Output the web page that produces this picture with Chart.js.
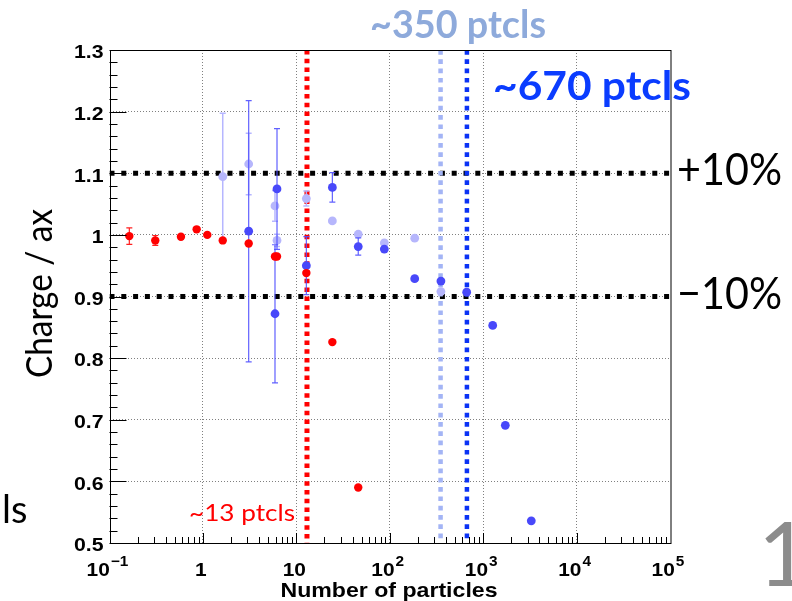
<!DOCTYPE html>
<html><head><meta charset="utf-8">
<script src="https://cdn.jsdelivr.net/npm/chart.js@4.4.0/dist/chart.umd.min.js"></script>
<style>html,body{margin:0;padding:0;background:#fff;overflow:hidden}</style>
</head><body>
<canvas id="c" width="792" height="601"></canvas>
<script>
// ---------- data ----------
const redX   = [0.163, 0.309, 0.582, 0.857, 1.114, 1.63, 3.09, 5.91, 6.21, 12.8, 24.3, 46.0];
const redY   = [0.998, 0.991, 0.997, 1.009, 1.000, 0.991, 0.986, 0.965, 0.965, 0.938, 0.826, 0.590];
const redErr = [0.0135, 0.008, 0, 0, 0, 0, 0, 0, 0, 0, 0, 0];

const darkX   = [3.09, 5.91, 6.21, 12.8, 24.3, 46.0, 87.5, 185, 353, 666, 1265, 1726, 3274];
const darkY   = [1.006, 0.872, 1.0745, 0.950, 1.077, 0.981, 0.977, 0.929, 0.925, 0.907, 0.853, 0.691, 0.536];
const darkErr = [0.212, 0.112, 0.098, 0.047, 0.024, 0.014, 0, 0, 0, 0, 0, 0, 0];

const lightX   = [1.63, 3.09, 5.91, 6.21, 12.8, 24.3, 46.0, 87.5, 185, 353];
const lightY   = [1.0945, 1.115, 1.047, 0.991, 1.059, 1.0226, 1.001, 0.987, 0.9946, 0.908];
const lightErr = [0.103, 0.05, 0.025, 0.01, 0.012, 0, 0, 0, 0, 0];

const limitLevels = [1.1, 0.9];          // +10% / -10%
const markerCounts = [13, 350, 670];     // ~13, ~350, ~670 ptcls

const xMin = 0.1, xMax = 1e5, yMin = 0.5, yMax = 1.3;
const xTickValues = [0.1, 1, 10, 100, 1000, 1e4, 1e5];
const xTickLabels = ['10^−1', '1', '10', '10^2', '10^3', '10^4', '10^5'];
const yTickValues = [0.5, 0.6, 0.7, 0.8, 0.9, 1.0, 1.1, 1.2, 1.3];
const yTickLabels = ['0.5', '0.6', '0.7', '0.8', '0.9', '1', '1.1', '1.2', '1.3'];

// ---------- helpers ----------
const pts = (xs, ys) => xs.map((x, i) => ({x: x, y: ys[i]}));
function drawText(ctx, s, x, y, font, color, align, sx, targetW) {
  ctx.save();
  ctx.font = font; ctx.fillStyle = color; ctx.textAlign = 'left'; ctx.textBaseline = 'alphabetic';
  const m = ctx.measureText(s).width;
  if (targetW) sx = targetW / m;
  const w = m * sx;
  const x0 = align === 'right' ? x - w : (align === 'center' ? x - w / 2 : x);
  ctx.translate(x0, y); ctx.scale(sx, 1); ctx.fillText(s, 0, 0);
  ctx.restore();
  return w;
}
const TICKFONT = 'bold 18.5px "Liberation Sans", Arial, sans-serif';
const XTICKFONT = 'bold 19px "Liberation Sans", Arial, sans-serif';
const EXPFONT = 'bold 14px "Liberation Sans", Arial, sans-serif';
const SLIDE = 'Lato, "Open Sans", sans-serif';

const decor = {
  id: 'decor',
  beforeDatasetDraw(chart, args) {
    const ds = chart.data.datasets[args.index];
    if (!ds.errors) return;
    const xs = chart.scales.x, ys = chart.scales.y, ctx = chart.ctx;
    ctx.save();
    ctx.strokeStyle = ds.errColor; ctx.lineWidth = ds.errWidth;
    ds.data.forEach((p, i) => {
      const e = ds.errors[i]; if (!e) return;
      const x = xs.getPixelForValue(p.x);
      const y1 = ys.getPixelForValue(p.y + e), y2 = ys.getPixelForValue(p.y - e);
      ctx.beginPath();
      ctx.moveTo(x, y1); ctx.lineTo(x, y2);
      ctx.moveTo(x - 3, y1); ctx.lineTo(x + 3, y1);
      ctx.moveTo(x - 3, y2); ctx.lineTo(x + 3, y2);
      ctx.stroke();
    });
    ctx.restore();
  },
  afterDatasetsDraw(chart) {
    const ctx = chart.ctx, a = chart.chartArea, xs = chart.scales.x, ys = chart.scales.y;
    ctx.save();
    ctx.strokeStyle = '#000'; ctx.lineWidth = 1;
    ctx.strokeRect(Math.round(a.left) + 0.5, Math.round(a.top) + 0.5, Math.round(a.right - a.left) - 0.5, Math.round(a.bottom - a.top));
    ctx.beginPath();
    for (let k = 0; k <= 40; k++) {
      const v = yMin + k * 0.02;
      const y = Math.round(ys.getPixelForValue(v)) + 0.5;
      const L = (k % 5 === 0) ? 17 : 8;
      ctx.moveTo(a.left, y); ctx.lineTo(a.left + L, y);
    }
    for (let d = -1; d <= 4; d++) {
      for (let m = 1; m <= 9; m++) {
        const v = m * Math.pow(10, d);
        const x = Math.round(xs.getPixelForValue(v)) + 0.5;
        const L = (m === 1) ? 10 : 6;
        ctx.moveTo(x, a.bottom); ctx.lineTo(x, a.bottom - L);
      }
    }
    ctx.stroke();
    ctx.restore();

    // y tick labels
    yTickValues.forEach((v, i) => {
      const y = ys.getPixelForValue(v);
      drawText(ctx, yTickLabels[i], 103.5, y + 8.3, TICKFONT, '#000', 'right', 1.15);
    });
    // x tick labels (with superscripts)
    xTickValues.forEach((v, i) => {
      const x = xs.getPixelForValue(v) - 2;
      const parts = xTickLabels[i].split('^');
      ctx.save(); ctx.font = XTICKFONT;
      const wb = ctx.measureText(parts[0]).width * 1.1;
      ctx.font = EXPFONT;
      const we = parts[1] ? ctx.measureText(parts[1]).width * 1.1 + 1 : 0;
      ctx.restore();
      const x0 = x - (wb + we) / 2;
      drawText(ctx, parts[0], x0, 575.5, XTICKFONT, '#000', 'left', 1.1);
      if (parts[1]) drawText(ctx, parts[1], x0 + wb + 1, 566, EXPFONT, '#000', 'left', 1.1);
    });
    drawText(ctx, 'Number of particles', 389, 597, 'bold 21px "Liberation Sans", Arial, sans-serif', '#000', 'center', 1, 217);
  },
  afterDraw(chart) {
    const ctx = chart.ctx;
    // y title (rotated)
    ctx.save();
    ctx.translate(51.5, 293.5); ctx.rotate(-Math.PI / 2);
    drawText(ctx, 'Charge / ax', 0, 0, '36px ' + SLIDE, '#000', 'center', 1, 169);
    ctx.restore();
    drawText(ctx, '~350 ptcls', 370, 37.5, 'bold 39px ' + SLIDE, '#8eaadb', 'left', 1, 176);
    drawText(ctx, '~670 ptcls', 493, 100, 'bold 41px ' + SLIDE, '#0a3cff', 'left', 1, 198);
    drawText(ctx, '+10%', 677, 185, '44px ' + SLIDE, '#000', 'left', 1, 105);
    drawText(ctx, '\u221210%', 677, 308.5, '44px ' + SLIDE, '#000', 'left', 1, 105);
    drawText(ctx, '~13 ptcls', 189, 521, '24px ' + SLIDE, '#ff0000', 'left', 1, 106);
    drawText(ctx, 'ls', 2, 523, '38px ' + SLIDE, '#000', 'left', 1);
    drawText(ctx, '1', 758, 586, '90px ' + SLIDE, '#8c8c8c', 'left', 1);
  }
};

const lineDs = [];
limitLevels.forEach(v => lineDs.push({
  type: 'line', data: [{x: xMin, y: v}, {x: xMax, y: v}],
  borderColor: '#000', borderWidth: 5, borderDash: [5, 6.8], borderCapStyle: 'butt',
  pointRadius: 0, fill: false, order: 10
}));
const vColors = ['#ff0000', '#a3b4f5', '#0a32f5'];
const vDash = [[4.5, 4.3], [4.7, 4.6], [4.7, 4.6]];
markerCounts.forEach((n, i) => lineDs.push({
  type: 'line', data: [{x: n, y: yMax}, {x: n, y: yMin}],
  borderColor: vColors[i], borderWidth: i === 0 ? 5 : 4.5, borderDash: vDash[i], borderCapStyle: 'butt',
  pointRadius: 0, fill: false, order: 9
}));

new Chart(document.getElementById('c'), {
  type: 'scatter',
  data: {
    datasets: lineDs.concat([
      {data: pts(lightX, lightY), errors: lightErr, errColor: 'rgba(178,178,255,0.95)', errWidth: 1.5,
       pointRadius: 4.4, pointBackgroundColor: 'rgb(182,182,252)', pointBorderWidth: 0, order: 3},
      {data: pts(darkX, darkY), errors: darkErr, errColor: 'rgba(80,80,255,0.9)', errWidth: 1.2,
       pointRadius: 4.4, pointBackgroundColor: 'rgb(72,72,250)', pointBorderWidth: 0, order: 2},
      {data: pts(redX, redY), errors: redErr, errColor: '#ff2020', errWidth: 1.2,
       pointRadius: 4.2, pointBackgroundColor: '#ff0000', pointBorderWidth: 0, order: 1}
    ])
  },
  options: {
    responsive: false, animation: false, devicePixelRatio: 1,
    layout: {padding: {left: 0, right: 122, top: 50, bottom: 0}},
    plugins: {legend: {display: false}, tooltip: {enabled: false}},
    events: [],
    scales: {
      x: {
        type: 'logarithmic', min: xMin, max: xMax,
        afterBuildTicks: s => { s.ticks = xTickValues.map(v => ({value: v})); },
        afterFit: s => { s.height = 58; },
        ticks: {display: false},
        grid: {drawTicks: false, lineWidth: 1,
               color: c => (c.tick && c.tick.value > xMin * 1.01 && c.tick.value < xMax * 0.99) ? '#808080' : 'rgba(0,0,0,0)'},
        border: {display: false, dash: [1, 2]}
      },
      y: {
        type: 'linear', min: yMin, max: yMax,
        afterBuildTicks: s => { s.ticks = yTickValues.map(v => ({value: v})); },
        afterFit: s => { s.width = 109.5; },
        ticks: {display: false},
        grid: {drawTicks: false, lineWidth: 1,
               color: c => (c.tick && c.tick.value > yMin + 0.01 && c.tick.value < yMax - 0.01) ? '#808080' : 'rgba(0,0,0,0)'},
        border: {display: false, dash: [1, 2]}
      }
    }
  },
  plugins: [decor]
});
</script>
</body></html>
